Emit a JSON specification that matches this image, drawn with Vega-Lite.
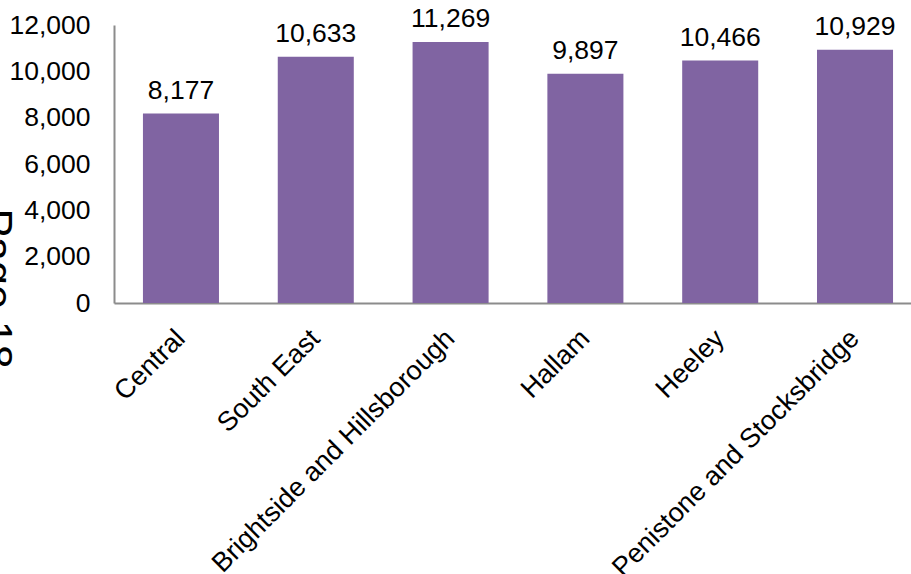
{
  "$schema": "https://vega.github.io/schema/vega-lite/v6.json",
  "autosize": {"type": "none"},
  "padding": {"left": 114, "top": 25, "right": 0, "bottom": 271},
  "width": 797,
  "height": 278,
  "background": "white",
  "config": {
    "view": {"stroke": null},
    "font": "Liberation Sans"
  },
  "data": {
    "values": [
      {"constituency": "Central", "value": 8177},
      {"constituency": "South East", "value": 10633},
      {"constituency": "Brightside and Hillsborough", "value": 11269},
      {"constituency": "Hallam", "value": 9897},
      {"constituency": "Heeley", "value": 10466},
      {"constituency": "Penistone and Stocksbridge", "value": 10929}
    ]
  },
  "encoding": {
    "x": {
      "field": "constituency",
      "type": "nominal",
      "sort": null,
      "scale": {"paddingInner": 0.436, "paddingOuter": 0.174, "align": 0.617},
      "axis": {
        "title": null,
        "labelAngle": -45,
        "labelAlign": "right",
        "labelBaseline": "middle",
        "labelFontSize": 27,
        "labelColor": "#000000",
        "labelPadding": 31,
        "labelFont": "Liberation Sans",
        "ticks": false,
        "domainColor": "#8c8c8c",
        "domainWidth": 2,
        "labelLimit": 0
      }
    },
    "y": {
      "field": "value",
      "type": "quantitative",
      "scale": {"domain": [0, 12000], "nice": false},
      "axis": {
        "title": "Page 18",
        "titleAngle": 90,
        "titleFontSize": 43,
        "titleFontWeight": "normal",
        "titleColor": "#000000",
        "titleX": -132,
        "titleY": 263,
        "titleAlign": "center",
        "titleBaseline": "alphabetic",
        "values": [0, 2000, 4000, 6000, 8000, 10000, 12000],
        "format": ",.0f",
        "labelFontSize": 26.5,
        "labelColor": "#000000",
        "labelPadding": 24,
        "labelFont": "Liberation Sans",
        "ticks": false,
        "grid": false,
        "domainColor": "#8c8c8c",
        "domainWidth": 2
      }
    }
  },
  "layer": [
    {"mark": {"type": "bar", "color": "#8064a2"}},
    {
      "mark": {"type": "text", "baseline": "alphabetic", "dy": -15, "fontSize": 26.5, "color": "#000000", "font": "Liberation Sans"},
      "encoding": {"text": {"field": "value", "type": "quantitative", "format": ",.0f"}}
    }
  ]
}
